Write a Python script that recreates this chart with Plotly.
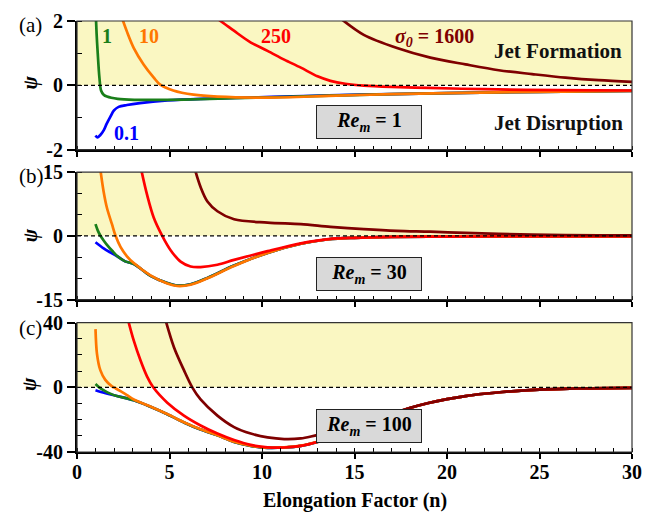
import plotly.graph_objects as go

# ---------------- data ----------------
SIGMA_LABELS = ["0.1", "1", "10", "250", "1600"]
REM_LABELS = ["1", "30", "100"]

X_TICKS = [0, 5, 10, 15, 20, 25, 30]
X_TICK_TEXT = ["0", "5", "10", "15", "20", "25", "30"]

YA_TICKS = [-2, 0, 2]
YA_TICK_TEXT = ["-2", "0", "2"]
YB_TICKS = [-15, 0, 15]
YB_TICK_TEXT = ["-15", "0", "15"]
YC_TICKS = [-40, 0, 40]
YC_TICK_TEXT = ["-40", "0", "40"]

# Panel (a): Re_m = 1
A_N_BLUE = [1.0, 1.1, 1.25, 1.45, 1.6, 1.8, 2.0, 2.25, 2.7, 3.4, 4.9, 6.7, 8.5, 10.5, 13.6, 17, 20, 25, 30]
A_PSI_BLUE = [-1.56, -1.62, -1.55, -1.39, -1.2, -0.98, -0.78, -0.67, -0.61, -0.55, -0.47, -0.42, -0.39, -0.36, -0.31, -0.27, -0.24, -0.2, -0.17]
A_N_GREEN = [1.0, 1.06, 1.12, 1.21, 1.3, 1.44, 1.62, 2.2, 3.1, 4.9, 6.7, 8.5, 10.5, 13.6, 17, 20, 25, 30]
A_PSI_GREEN = [2.4, 1.6, 1.0, 0.25, -0.16, -0.29, -0.35, -0.42, -0.45, -0.45, -0.43, -0.4, -0.37, -0.32, -0.27, -0.24, -0.2, -0.17]
A_N_ORANGE = [2.4, 2.7, 3.07, 3.6, 4.15, 4.5, 5.2, 6.3, 7.6, 10.3, 13.6, 17, 20, 25, 30]
A_PSI_ORANGE = [2.15, 1.67, 1.16, 0.65, 0.24, 0.02, -0.16, -0.29, -0.35, -0.38, -0.33, -0.27, -0.24, -0.2, -0.17]
A_N_RED = [7.4, 8.0, 8.5, 9.4, 10.3, 11.2, 12.1, 13.0, 13.7, 14.5, 15.5, 17, 19, 22, 26, 30]
A_PSI_RED = [2.15, 1.9, 1.69, 1.33, 1.07, 0.8, 0.55, 0.28, 0.14, 0.05, -0.01, -0.05, -0.08, -0.12, -0.15, -0.16]
A_N_DRED = [14.2, 15.5, 17.3, 19.1, 21.0, 22.8, 24.6, 26.4, 28.2, 30]
A_PSI_DRED = [2.1, 1.57, 1.16, 0.86, 0.65, 0.47, 0.35, 0.24, 0.16, 0.11]

# Panel (b): Re_m = 30
B_N_BLUE = [1.0, 1.44, 1.8, 2.17, 2.6, 3.07, 3.97, 4.88, 5.42, 6.14, 7.05, 8.49, 10.3, 12.1, 13.6, 15, 17, 20, 25, 30]
B_PSI_BLUE = [-1.5, -2.95, -3.9, -4.8, -6.0, -6.6, -9.4, -11.1, -11.7, -11.4, -9.9, -7.0, -4.0, -1.85, -0.8, -0.45, -0.25, -0.15, -0.1, -0.1]
B_N_GREEN = [1.0, 1.12, 1.26, 1.44, 1.62, 1.9, 2.17, 2.6, 3.07, 3.97, 4.88, 5.42, 6.14, 7.05, 8.49, 10.3, 12.1, 13.6, 15, 17, 20, 25, 30]
B_PSI_GREEN = [2.75, 1.3, 0.1, -1.07, -2.1, -3.5, -4.75, -6.0, -6.6, -9.4, -11.1, -11.7, -11.4, -9.9, -7.0, -4.0, -1.85, -0.8, -0.45, -0.25, -0.15, -0.1, -0.1]
B_N_ORANGE = [1.25, 1.44, 1.62, 1.89, 2.08, 2.35, 2.7, 3.07, 3.97, 4.88, 5.42, 6.14, 7.05, 8.49, 10.3, 12.1, 13.6, 15, 17, 20, 25, 30]
B_PSI_ORANGE = [16, 10.4, 6.56, 2.75, 0.07, -2.6, -4.8, -6.4, -9.3, -11.2, -11.8, -11.5, -10.0, -7.1, -4.0, -1.85, -0.8, -0.45, -0.25, -0.15, -0.1, -0.1]
B_N_RED = [3.45, 3.79, 4.15, 4.6, 5.06, 5.6, 6.14, 6.68, 7.59, 8.49, 10.3, 12.1, 13.6, 15, 17, 20, 25, 30]
B_PSI_RED = [16, 9.63, 4.27, 0.07, -3.37, -6.05, -7.2, -7.34, -6.8, -5.66, -3.6, -1.75, -0.75, -0.45, -0.25, -0.17, -0.15, -0.15]
B_N_DRED = [6.35, 6.68, 7.05, 7.59, 8.49, 10.3, 12.1, 13.7, 15.5, 17.3, 19.1, 21.0, 22.8, 24.6, 28.2, 30]
B_PSI_DRED = [16, 11.5, 8.1, 5.8, 3.9, 3.12, 2.75, 2.13, 1.6, 1.2, 0.99, 0.69, 0.46, 0.3, 0.14, 0.1]

# Panel (c): Re_m = 100
C_N_BLUE = [1.0, 1.5, 2.1, 3.07, 3.97, 4.88, 5.78, 6.68, 7.59, 8.49, 9.39, 10.3, 11.2, 12.1, 13.0, 13.6, 14, 15, 16, 17, 18, 19, 20, 21, 22, 23, 24, 25, 27, 30]
C_PSI_BLUE = [-1.8, -3.5, -5.2, -8.0, -12.0, -16.6, -21.7, -26.1, -29.7, -33.8, -36.2, -37.4, -37.2, -36.2, -33.8, -31.6, -30.0, -25.8, -21.0, -16.8, -12.8, -9.7, -7.3, -5.4, -4.0, -2.9, -2.0, -1.4, -0.7, -0.3]
C_N_GREEN = [1.0, 1.2, 1.5, 1.8, 2.1, 3.07, 3.97, 4.88, 5.78, 6.68, 7.59, 8.49, 9.39, 10.3, 11.2, 12.1, 13.0, 13.6, 14, 15, 16, 17, 18, 19, 20, 21, 22, 23, 24, 25, 27, 30]
C_PSI_GREEN = [2.0, 0.0, -2.2, -3.9, -5.2, -8.0, -12.0, -16.6, -21.7, -26.1, -29.7, -33.8, -36.2, -37.4, -37.2, -36.2, -33.8, -31.6, -30.0, -25.8, -21.0, -16.8, -12.8, -9.7, -7.3, -5.4, -4.0, -2.9, -2.0, -1.4, -0.7, -0.3]
C_N_ORANGE = [1.0, 1.08, 1.26, 1.53, 1.89, 2.08, 2.35, 2.7, 3.07, 3.97, 4.88, 5.78, 6.68, 7.59, 8.49, 9.39, 10.3, 11.2, 12.1, 13.0, 13.6, 14, 15, 16, 17, 18, 19, 20, 21, 22, 23, 24, 25, 27, 30]
C_PSI_ORANGE = [36, 20.7, 10.6, 4.6, 0.6, -0.6, -2.4, -4.8, -7.5, -11.9, -16.5, -21.6, -26.0, -29.6, -33.7, -36.1, -37.3, -37.1, -36.1, -33.7, -31.6, -30.0, -25.8, -21.0, -16.8, -12.8, -9.7, -7.3, -5.4, -4.0, -2.9, -2.0, -1.4, -0.7, -0.3]
C_N_RED = [2.75, 3.07, 3.43, 3.79, 4.12, 4.88, 5.78, 6.68, 7.59, 8.49, 9.39, 10.3, 11.2, 12.1, 13.0, 13.6, 14, 15, 16, 17, 18, 19, 20, 21, 22, 23, 24, 25, 27, 30]
C_PSI_RED = [42, 28.8, 16.7, 6.6, 0.0, -9.5, -17.5, -23.6, -28.6, -32.6, -35.6, -37.1, -37.2, -36.2, -33.8, -31.6, -30.0, -25.8, -21.0, -16.8, -12.8, -9.7, -7.3, -5.4, -4.0, -2.9, -2.0, -1.4, -0.7, -0.3]
C_N_DRED = [4.75, 5.24, 5.78, 6.23, 6.68, 7.59, 8.49, 9.39, 10.3, 11.2, 12.1, 13.0, 14, 15, 16, 17, 18, 19, 20, 21, 22, 23, 24, 25, 27, 30]
C_PSI_DRED = [43, 24.8, 10.6, 0.0, -7.5, -17.5, -24.6, -28.6, -31.0, -32.0, -31.6, -29.6, -27.8, -25.0, -20.8, -16.6, -12.7, -9.7, -7.3, -5.4, -4.0, -2.9, -2.0, -1.4, -0.7, -0.3]

# ---------------- styling ----------------
FONT = "Liberation Serif"
COLORS = ["#0000FF", "#1A7F1A", "#FF7700", "#FF0000", "#7F0000"]
YELLOW = "#FAF7C2"
BOXGRAY = "#D9D9D9"

panels = [
    dict(xa="x", ya="y", rng=[-2, 2], tv=YA_TICKS, tt=YA_TICK_TEXT, minor=1,
         series=[(A_N_BLUE, A_PSI_BLUE), (A_N_GREEN, A_PSI_GREEN), (A_N_ORANGE, A_PSI_ORANGE),
                 (A_N_RED, A_PSI_RED), (A_N_DRED, A_PSI_DRED)],
         dom=[0.7014, 1.0], box_y=-1.14, tag="(a)", psi_y=0.8578, tag_y=0.991),
    dict(xa="x2", ya="y2", rng=[-15, 15], tv=YB_TICKS, tt=YB_TICK_TEXT, minor=5,
         series=[(B_N_BLUE, B_PSI_BLUE), (B_N_GREEN, B_PSI_GREEN), (B_N_ORANGE, B_PSI_ORANGE),
                 (B_N_RED, B_PSI_RED), (B_N_DRED, B_PSI_DRED)],
         dom=[0.3536, 0.6493], box_y=-8.9, tag="(b)", psi_y=0.5034, tag_y=0.641),
    dict(xa="x3", ya="y3", rng=[-40, 40], tv=YC_TICKS, tt=YC_TICK_TEXT, minor=10,
         series=[(C_N_BLUE, C_PSI_BLUE), (C_N_GREEN, C_PSI_GREEN), (C_N_ORANGE, C_PSI_ORANGE),
                 (C_N_RED, C_PSI_RED), (C_N_DRED, C_PSI_DRED)],
         dom=[0.0, 0.3002], box_y=-23.8, tag="(c)", psi_y=0.158, tag_y=0.2867),
]

fig = go.Figure()
shapes = []
annotations = []
layout = {}

for i, p in enumerate(panels):
    for (n, psi), col, lab in zip(p["series"], COLORS, SIGMA_LABELS):
        fig.add_trace(go.Scatter(x=n, y=psi, mode="lines", xaxis=p["xa"], yaxis=p["ya"],
                                 line=dict(color=col, width=2.7, shape="spline", smoothing=0.9),
                                 showlegend=False, name=lab, hoverinfo="skip"))
    suffix = "" if i == 0 else str(i + 1)
    xd = p["xa"] + " domain"
    yd = p["ya"] + " domain"
    # Jet formation region (psi > 0)
    shapes.append(dict(type="rect", xref=xd, yref=p["ya"], x0=0, x1=1, y0=0, y1=p["rng"][1],
                       fillcolor=YELLOW, line=dict(width=0), layer="below"))
    # dashed zero line
    shapes.append(dict(type="line", xref=xd, yref=p["ya"], x0=0, x1=1, y0=0, y1=0,
                       line=dict(color="black", width=1.2, dash="4px,3px"), layer="above"))
    # frame
    shapes.append(dict(type="rect", xref=xd, yref=yd, x0=0, x1=1, y0=0, y1=1,
                       line=dict(color="#333333", width=1.2), layer="above"))

    layout["xaxis" + suffix] = dict(
        domain=[0, 1], anchor=p["ya"], range=[0, 30], tickmode="array",
        tickvals=X_TICKS, ticktext=X_TICK_TEXT, showticklabels=(i == 2),
        ticks="outside", ticklen=5, tickwidth=1.6, tickcolor="black",
        ticklabelstandoff=-4,
        minor=dict(dtick=1, tick0=0, ticks="inside", ticklen=4, tickwidth=1.2, tickcolor="black"),
        showline=True, linewidth=2, linecolor="black", showgrid=False, zeroline=False,
        tickfont=dict(family=FONT, size=20, color="black", weight="bold"),
        fixedrange=True)
    layout["yaxis" + suffix] = dict(
        domain=p["dom"], anchor=p["xa"], range=p["rng"], tickmode="array",
        tickvals=p["tv"], ticktext=p["tt"],
        ticks="outside", ticklen=8, tickwidth=1.6, tickcolor="black",
        minor=dict(dtick=p["minor"], tick0=0, ticks="inside", ticklen=5, tickwidth=1.2, tickcolor="black"),
        showline=True, linewidth=2, linecolor="black", showgrid=False, zeroline=False,
        tickfont=dict(family=FONT, size=20, color="black", weight="bold"),
        fixedrange=True)

    # Re_m box
    annotations.append(dict(
        xref=p["xa"], yref=p["ya"], x=15.78, y=p["box_y"],
        text="<b><i>Re</i><sub><i>m</i></sub> = " + REM_LABELS[i] + "</b>",
        showarrow=False, bgcolor=BOXGRAY, bordercolor="#222222", borderwidth=1,
        borderpad=1, width=102, height=30, align="center",
        font=dict(family=FONT, size=20, color="black")))
    # panel tag
    annotations.append(dict(xref="paper", yref="paper", x=-0.108, y=p["tag_y"],
                            xanchor="left", yanchor="middle", text=p["tag"], showarrow=False,
                            font=dict(family=FONT, size=21, color="black")))
    # psi label
    annotations.append(dict(xref="paper", yref="paper", x=-0.0845, y=p["psi_y"],
                            xanchor="center", yanchor="middle", text="<b><i>ψ</i></b>",
                            textangle=-90, showarrow=False,
                            font=dict(family=FONT, size=20, color="black")))

# curve labels in panel (a)
label_pos = [(2.65, -1.49), (1.63, 1.52), (3.88, 1.52), (10.75, 1.52)]
for (xx, yy), col, lab in zip(label_pos, COLORS[:4], SIGMA_LABELS[:4]):
    annotations.append(dict(xref="x", yref="y", x=xx, y=yy, text="<b>" + lab + "</b>",
                            showarrow=False, font=dict(family=FONT, size=20, color=col)))
annotations.append(dict(xref="x", yref="y", x=19.3, y=1.49,
                        text="<b><i>σ<sub>0</sub></i> = " + SIGMA_LABELS[4] + "</b>",
                        showarrow=False, font=dict(family=FONT, size=20, color=COLORS[4])))
annotations.append(dict(xref="x", yref="y", x=26.0, y=1.08, text="<b>Jet Formation</b>",
                        showarrow=False, font=dict(family=FONT, size=21, color="#111111")))
annotations.append(dict(xref="x", yref="y", x=26.0, y=-1.18, text="<b>Jet Disruption</b>",
                        showarrow=False, font=dict(family=FONT, size=21, color="#111111")))
# x-axis title
annotations.append(dict(xref="paper", yref="paper", x=0.5, y=-0.112, xanchor="center",
                        yanchor="middle", text="<b>Elongation Factor (n)</b>", showarrow=False,
                        font=dict(family=FONT, size=20, color="black")))

fig.update_layout(
    width=657, height=512, autosize=False,
    margin=dict(l=77, r=25, t=10, b=60),
    paper_bgcolor="white", plot_bgcolor="white",
    font=dict(family=FONT),
    shapes=shapes, annotations=annotations, showlegend=False,
    **layout)

fig.write_html("out.html", config={"displayModeBar": False})
